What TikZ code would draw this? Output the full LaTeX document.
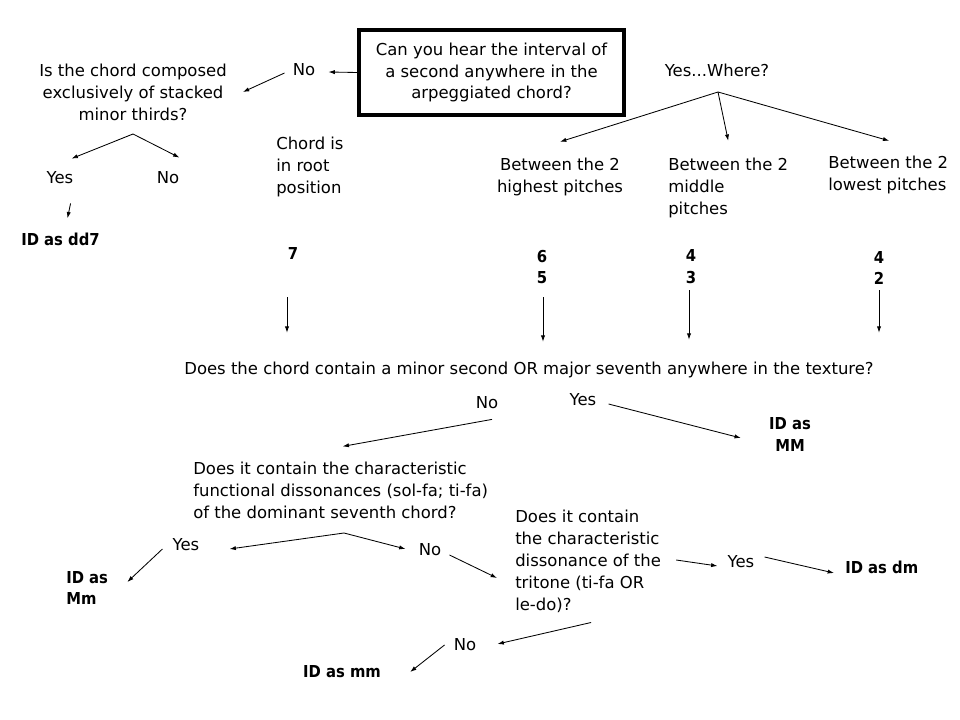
\documentclass[tikz,border=0pt]{standalone}
\usepackage{fontspec}
\setmainfont{DejaVu Sans}
\newfontfamily\idfont{DejaVu Sans Condensed}
\usetikzlibrary{arrows.meta,calc}

\tikzset{
  txt/.style={inner sep=0pt, font=\fontsize{11.7pt}{15.6pt}\selectfont, align=center},
  txtl/.style={txt, align=left, anchor=west},
  idtxt/.style={inner sep=0pt, align=center, font=\fontsize{11.7pt}{15.6pt}\selectfont\idfont\bfseries},
  idtxtl/.style={idtxt, align=left, anchor=west},
  arr/.style={-{Latex[length=4.5pt,width=3pt]}, line width=0.6pt},
}

\begin{document}
\begin{tikzpicture}[x=0.025cm, y=-0.025cm]
  \useasboundingbox (0,0) rectangle (960,720);

  % top question and its left branch
  \node[txt, draw, line width=2.85pt, minimum width=6.625cm, minimum height=2.125cm] (hear) at (491.5, 72.5) {Can you hear the interval of\\a second anywhere in the\\arpeggiated chord?};
  \node[txt] (no1) at (304, 70) {No};
  \node[txt] (thirds) at (133, 92) {Is the chord composed\\exclusively of stacked\\minor thirds?};
  \coordinate (fk1) at (133, 134);
  \node[txt] (yes1) at (60, 178) {Yes};
  \node[txt] (no2) at (168, 178) {No};
  \node[idtxt] (dd7) at (60.5, 239) {ID as dd7};
  \node[txtl] (root) at (276, 167) {Chord is\\in root\\position};
  \node[idtxt] (seven) at (293, 254) {7};

  \draw[arr] (hear.west) -- ($(no1.east)+(13,2)$);
  \draw[arr] ($(no1.west)+(-8,3)$) -- ($(thirds.east)+(16,0)$);
  \draw[arr] (fk1) -- ($(yes1.north east)+(-2,-13)$);
  \draw[arr] (fk1) -- ($(no2.north east)+(0,-14)$);
  \draw[arr] ($(yes1.south east)+(-3,19)$) -- ($(dd7.north)+(7,-14)$);

  % right branch: where is the second
  \node[txt] (where) at (717, 70) {Yes...Where?};
  \coordinate (fk2) at (718, 92);
  \node[txt] (high) at (560, 177) {Between the 2\\highest pitches};
  \node[txtl] (mid) at (668, 188) {Between the 2\\middle\\pitches};
  \node[txtl] (low) at (828, 175) {Between the 2\\lowest pitches};
  \node[idtxt] (n65) at (542, 267) {6\\5};
  \node[idtxt] (n43) at (691, 267) {4\\3};
  \node[idtxt] (n42) at (879, 268) {4\\2};

  \draw[arr] (fk2) -- ($(high.north)+(0,-16)$);
  \draw[arr] (fk2) -- ($(mid.north)+(0,-17)$);
  \draw[arr] (fk2) -- ($(low.north)+(1,-15)$);

  % middle question
  \node[txt] (texture) at (529, 370) {Does the chord contain a minor second OR major seventh anywhere in the texture?};

  \draw[arr] ($(seven.south)+(-6,37)$) -- ($(seven.south |- texture.north)+(-6,-29)$);
  \draw[arr] ($(n65.south)+(1,13)$) -- ($(n65.south |- texture.north)+(1,-20)$);
  \draw[arr] ($(n43.south)+(-2,6)$) -- ($(n43.south |- texture.north)+(-2,-22)$);
  \draw[arr] ($(n42.south)+(0,5)$) -- ($(n42.south |- texture.north)+(0,-29)$);

  \node[txt] (no3) at (487, 403) {No};
  \node[txt] (yes3) at (583, 400) {Yes};
  \node[idtxt] (mmaj) at (790, 434.5) {ID as\\MM};
  \draw[arr] ($(yes3.east)+(12,4)$) -- ($(mmaj.west)+(-28,3.5)$);

  % dominant seventh question
  \node[txtl] (domin) at (193, 490) {Does it contain the characteristic\\functional dissonances (sol-fa; ti-fa)\\of the dominant seventh chord?};
  \draw[arr] ($(no3.south)+(5,10)$) -- ($(domin.north)+(2,-15)$);
  \coordinate (fk3) at (344, 533);
  \node[txt] (yes4) at (186, 545) {Yes};
  \node[txt] (no4) at (430, 550) {No};
  \node[idtxtl] (mdom) at (66, 588) {ID as\\Mm};
  \draw[arr] (fk3) -- ($(yes4.east)+(30,4)$);
  \draw[arr] (fk3) -- ($(no4.west)+(-13,-1)$);
  \draw[arr] ($(yes4.west)+(-10,4)$) -- ($(mdom.east)+(19,-6)$);

  % tritone question
  \node[txtl] (trit) at (515, 561) {Does it contain\\the characteristic\\dissonance of the\\tritone (ti-fa OR\\le-do)?};
  \draw[arr] ($(no4.east)+(8,5)$) -- ($(trit.west)+(-18,17)$);
  \node[txt] (yes5) at (741, 562) {Yes};
  \node[idtxtl] (dm) at (845, 567) {ID as dm};
  \draw[arr] ($(trit.east)+(15,-1)$) -- ($(yes5.west)+(-10,4)$);
  \draw[arr] ($(yes5.east)+(10,-5)$) -- ($(dm.west)+(-11,6)$);
  \node[txt] (no5) at (465, 645) {No};
  \node[idtxt] (mmin) at (342, 672) {ID as mm};
  \draw[arr] ($(trit.south)+(3,10)$) -- ($(no5.east)+(21,-1)$);
  \draw[arr] ($(no5.west)+(-9,0)$) -- ($(mmin.east)+(29,0)$);
\end{tikzpicture}
\end{document}
